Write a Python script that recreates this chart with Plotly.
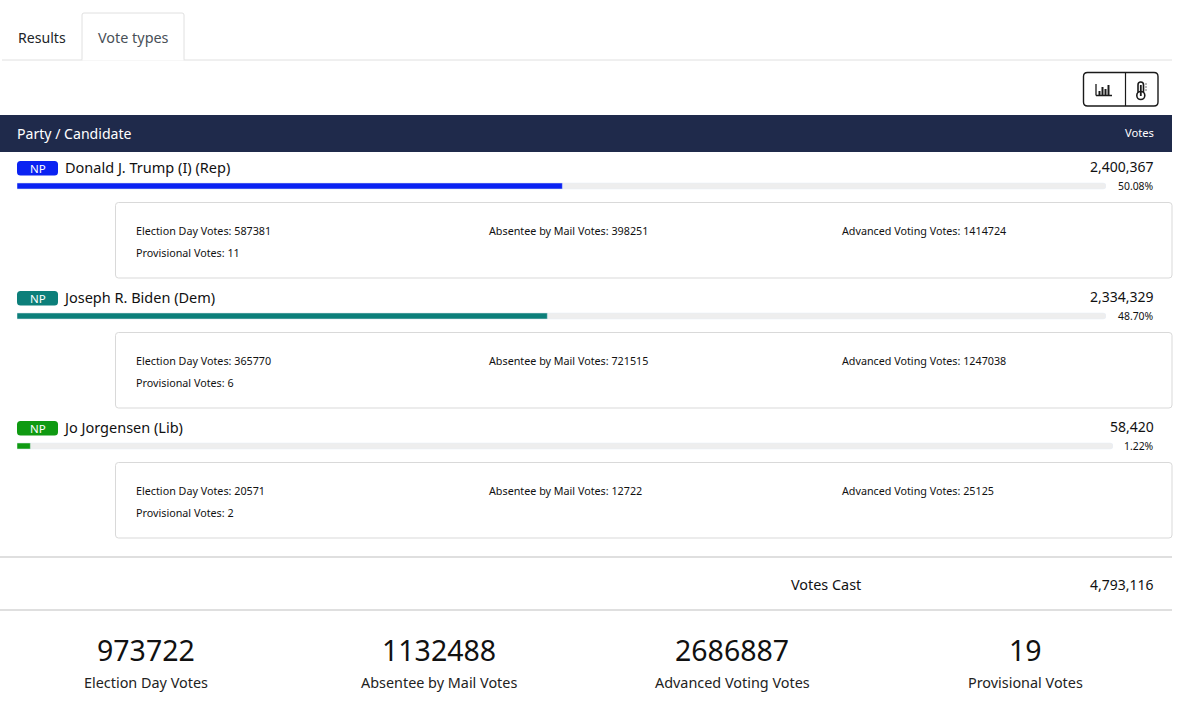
import plotly.graph_objects as go

# values
candidates = ["Donald J. Trump (I) (Rep)", "Joseph R. Biden (Dem)", "Jo Jorgensen (Lib)"]
votes = ["2,400,367", "2,334,329", "58,420"]
percents = [50.08, 48.70, 1.22]
election_day = [587381, 365770, 20571]
absentee = [398251, 721515, 12722]
advanced = [1414724, 1247038, 25125]
provisional = [11, 6, 2]
votes_cast = "4,793,116"
total_labels = ["Election Day Votes", "Absentee by Mail Votes", "Advanced Voting Votes", "Provisional Votes"]
total_values = [973722, 1132488, 2686887, 19]

party_colors = ["#0a22f2", "#0c7f7a", "#0f9a12"]
track_color = "#eeeeee"
header_color = "#1f2a4b"
FONT = "Noto Sans"

fig = go.Figure()
shapes = []
annotations = []


def text(x, y, s, size=12, color="#111111", anchor="left"):
    annotations.append(
        dict(x=x, y=y, text=s, xref="x", yref="y", showarrow=False, xanchor=anchor,
             yanchor="middle", font=dict(family=FONT, size=size, color=color),
             borderpad=0, borderwidth=0)
    )


def rect(x0, y0, x1, y1, fill="rgba(0,0,0,0)", line=None, width=1):
    shapes.append(
        dict(type="rect", x0=x0, y0=y0, x1=x1, y1=y1, xref="x", yref="y", fillcolor=fill,
             line=dict(color=line or "rgba(0,0,0,0)", width=width if line else 0))
    )


def seg(x0, y0, x1, y1, color="#dedede", width=1):
    shapes.append(dict(type="line", x0=x0, x1=x1, y0=y0, y1=y1, xref="x", yref="y",
                       line=dict(color=color, width=width)))


def rounded(x0, y0, x1, y1, r, fill="rgba(0,0,0,0)", line=None, width=1):
    path = (
        f"M {x0+r} {y0} L {x1-r} {y0} Q {x1} {y0} {x1} {y0+r} L {x1} {y1-r} Q {x1} {y1} {x1-r} {y1} "
        f"L {x0+r} {y1} Q {x0} {y1} {x0} {y1-r} L {x0} {y0+r} Q {x0} {y0} {x0+r} {y0} Z"
    )
    shapes.append(dict(type="path", path=path, xref="x", yref="y", fillcolor=fill,
                       line=dict(color=line or "rgba(0,0,0,0)", width=width if line else 0)))


# invisible trace so the page axes exist
fig.add_trace(go.Scatter(x=[0, 1200], y=[0, 713], mode="markers", marker=dict(opacity=0),
                         hoverinfo="skip", showlegend=False))

# tabs
seg(2, 60, 1172, 60, "#e0e0e0")
shapes.append(dict(type="path", path="M 82 60 L 82 15 Q 82 13 84 13 L 182 13 Q 184 13 184 15 L 184 60",
                   xref="x", yref="y", fillcolor="#ffffff", line=dict(color="#e0e0e0", width=1)))
seg(82.5, 60, 183.5, 60, "#ffffff", 1)
text(18, 37, "Results", 14.1, "#212529")
text(98, 37, "Vote types", 14.4, "#495057")

# toolbar buttons
rounded(1083.5, 72.5, 1158, 106, 4, line="#1a1a1a", width=1.4)
seg(1125.5, 72.5, 1125.5, 106, "#1a1a1a", 1.2)
seg(1096, 95.5, 1112, 95.5, "#1a1a1a", 1.5)
seg(1096, 84, 1096, 95.5, "#1a1a1a", 1.3)
for bx, by in [(1099.5, 91), (1102.5, 87), (1105.5, 89), (1108.5, 85)]:
    seg(bx, by, bx, 95, "#1a1a1a", 2)
rounded(1138, 82, 1143.5, 94, 2.7, line="#1a1a1a", width=1.6)
shapes.append(dict(type="circle", x0=1136.8, x1=1144.8, y0=91.5, y1=99.5, xref="x", yref="y",
                   fillcolor="#ffffff", line=dict(color="#1a1a1a", width=1.6)))
seg(1140.8, 85, 1140.8, 96, "#1a1a1a", 1.8)
for ty in [84, 87, 90]:
    seg(1145, ty, 1147, ty, "#777777", 1)

# table header
rect(0, 115, 1172, 152, header_color)
text(17, 133, "Party / Candidate", 14.1, "#ffffff")
text(1154.2, 132.5, "Votes", 11.2, "#ffffff", "right")

# candidate rows
tops = [159, 289, 419]
track_right = [1106, 1106, 1113]
name_x = [65, 63, 63]
for i, name in enumerate(candidates):
    top = tops[i]
    rounded(17, top + 2, 58, top + 16.5, 3.5, party_colors[i])
    text(37.5, top + 9.3, "NP", 11.5, "#ffffff", "center")
    text(name_x[i], top + 7.7, name, 14.5, "#111111")
    text(1154.4, top + 7.7, votes[i], 14, "#111111", "right")
    text(1154.4, top + 27, f"{percents[i]:.2f}%", 10.4, "#111111", "right")

    axis = f"x{i + 2}"
    layout_key = f"xaxis{i + 2}"
    bar_y = top + 27
    fig.add_trace(go.Bar(x=[100], y=[bar_y], width=[6], orientation="h", xaxis=axis, yaxis="y",
                         marker=dict(color=track_color, cornerradius=3), hoverinfo="skip", showlegend=False))
    fig.add_trace(go.Bar(x=[percents[i]], y=[bar_y], width=[6], orientation="h", xaxis=axis, yaxis="y",
                         marker=dict(color=party_colors[i], cornerradius=3), showlegend=False))
    fig.update_layout(**{layout_key: dict(domain=[17 / 1200, track_right[i] / 1200], range=[0, 100],
                                          visible=False, anchor="y", fixedrange=True)})

    card = top + 43
    rounded(115.5, card + 0.5, 1172, card + 76, 3, "#ffffff", "#d9d9d9")
    text(135.7, card + 28.7, f"Election Day Votes: {election_day[i]}", 10.75)
    text(488.7, card + 28.7, f"Absentee by Mail Votes: {absentee[i]}", 10.75)
    text(841.7, card + 28.7, f"Advanced Voting Votes: {advanced[i]}", 10.75)
    text(135.7, card + 50.7, f"Provisional Votes: {provisional[i]}", 10.75)

# footer
seg(0, 557, 1172, 557, "#d4d4d4", 1.3)
text(791, 584.3, "Votes Cast", 14.4)
text(1154.4, 584.3, votes_cast, 14, "#111111", "right")
seg(0, 610, 1172, 610, "#d4d4d4", 1.3)

centers = [146, 439, 732, 1025]
for cx, val, lab in zip(centers, total_values, total_labels):
    text(cx, 650.2, str(val), 28.5, "#111111", "center")
    text(cx, 682.7, lab, 14.4, "#222222", "center")

fig.update_layout(
    width=1200,
    height=713,
    margin=dict(l=0, r=0, t=0, b=0),
    paper_bgcolor="#ffffff",
    plot_bgcolor="rgba(0,0,0,0)",
    barmode="overlay",
    showlegend=False,
    xaxis=dict(range=[0, 1200], visible=False, domain=[0, 1], fixedrange=True),
    yaxis=dict(range=[713, 0], visible=False, domain=[0, 1], fixedrange=True),
    shapes=shapes,
    annotations=annotations,
)

# the page body has a default margin that would shift everything
fig.write_html(
    "out.html",
    config=dict(displayModeBar=False),
    post_script="document.body.style.margin='0';document.body.style.overflow='hidden';",
)
